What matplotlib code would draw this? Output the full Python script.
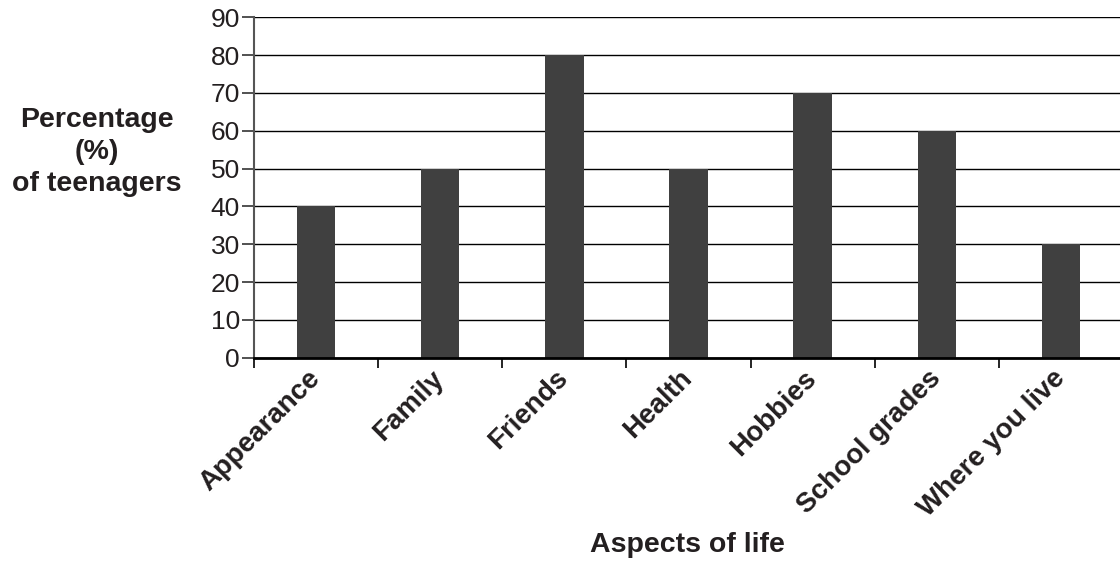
import matplotlib.pyplot as plt
import numpy as np

plt.rcParams['font.family'] = ['Liberation Sans', 'DejaVu Sans']

aspects = ["Appearance", "Family", "Friends", "Health", "Hobbies", "School grades", "Where you live"]
percent = [40, 50, 80, 50, 70, 60, 30]
y_ticks = [0, 10, 20, 30, 40, 50, 60, 70, 80, 90]

txt = '#231f20'

fig = plt.figure(figsize=(11.2, 5.87), dpi=100)
ax = fig.add_axes([254 / 1120, 229.3 / 587, 869 / 1120, 340.4 / 587])

x = np.arange(len(aspects))
ax.bar(x, percent, width=0.31, color='#404040', zorder=3)

ax.set_xlim(-0.5, len(aspects) - 0.5)
ax.set_ylim(0, 90)
ax.set_yticks(y_ticks)
ax.yaxis.grid(True, color='black', linewidth=1.0, zorder=0)

# ticks between categories, labels at centres
ax.set_xticks(np.arange(len(aspects) + 1) - 0.5)
ax.set_xticklabels([])
ax.set_xticks(x, minor=True)
ax.set_xticklabels(aspects, minor=True, rotation=45, ha='right', va='center',
                   rotation_mode='anchor', fontsize=20, fontweight='bold', color=txt)
ax.tick_params(axis='x', which='minor', length=0, pad=12)
ax.tick_params(axis='x', which='major', length=7, width=1.2, color='black')
ax.tick_params(axis='y', length=9, width=1.2, color='#333333', labelsize=19, labelcolor=txt, pad=1)

for s in ['top', 'right']:
    ax.spines[s].set_visible(False)
ax.spines['left'].set_color('#555555')
ax.spines['left'].set_linewidth(1.5)
ax.spines['bottom'].set_color('black')
ax.spines['bottom'].set_linewidth(2)
ax.spines['bottom'].set_zorder(4)

fig.text(97 / 1120, 1 - 152 / 587, "Percentage\n(%)\nof teenagers", ha='center', va='center',
         fontsize=20.5, fontweight='bold', color=txt, linespacing=1.3)
fig.text(687 / 1120, 1 - 545 / 587, "Aspects of life", ha='center', va='center',
         fontsize=20.5, fontweight='bold', color=txt)

fig.savefig('out.png', dpi=100)
